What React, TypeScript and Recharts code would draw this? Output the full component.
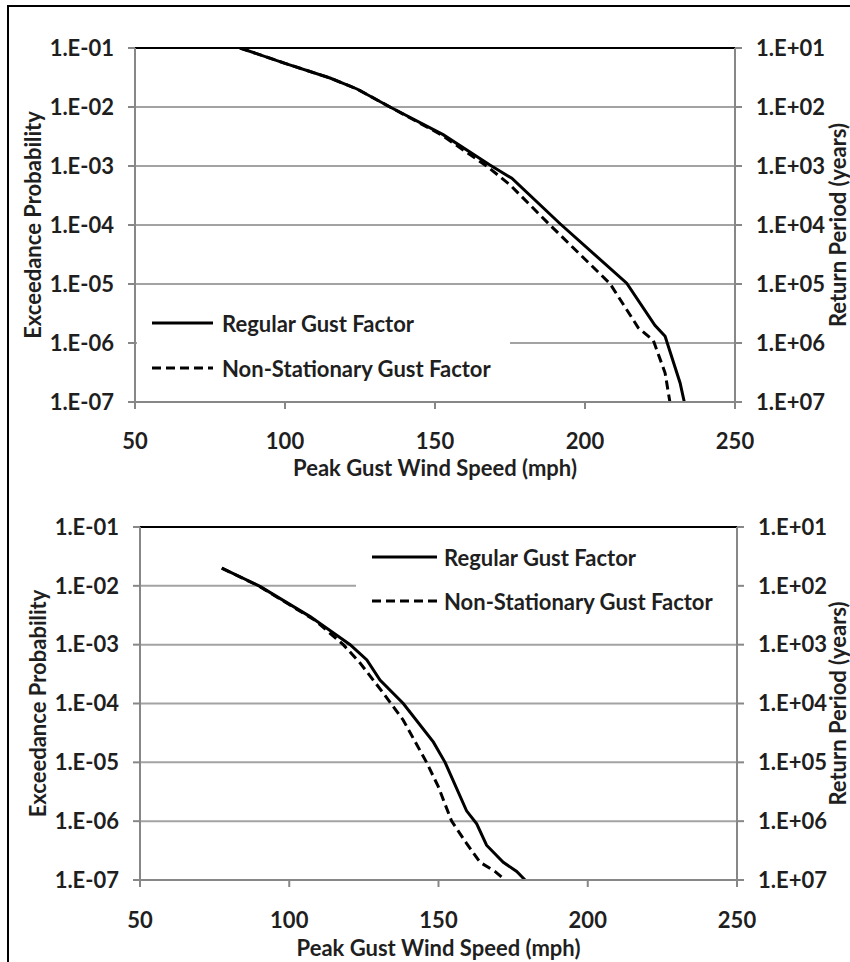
import React from 'react';
import { LineChart, Line, XAxis, YAxis, CartesianGrid, Legend, ReferenceLine } from 'recharts';

// ---------- data ----------
const speedTicks = [50, 100, 150, 200, 250];
const probTicks = [1e-1, 1e-2, 1e-3, 1e-4, 1e-5, 1e-6, 1e-7];
const returnTicks = [1e1, 1e2, 1e3, 1e4, 1e5, 1e6, 1e7];
const seriesNames = ['Regular Gust Factor', 'Non-Stationary Gust Factor'];

// South Florida: [peak gust mph, exceedance probability]
const sfRegular = [
  { mph: 85, p: 0.1 },
  { mph: 100, p: 0.055 },
  { mph: 115, p: 0.031 },
  { mph: 124, p: 0.0202 },
  { mph: 135, p: 0.01 },
  { mph: 152.7, p: 0.0034 },
  { mph: 168.3, p: 0.00104 },
  { mph: 175.6, p: 0.00062 },
  { mph: 191.7, p: 0.000105 },
  { mph: 213.9, p: 0.0000103 },
  { mph: 223.3, p: 0.0000020 },
  { mph: 226.7, p: 0.0000013 },
  { mph: 231.7, p: 0.00000021 },
  { mph: 233.1, p: 0.0000001 },
];
const sfNonStationary = [
  { mph: 85, p: 0.1 },
  { mph: 100, p: 0.055 },
  { mph: 115, p: 0.031 },
  { mph: 124, p: 0.0202 },
  { mph: 135, p: 0.01 },
  { mph: 152, p: 0.0034 },
  { mph: 167.2, p: 0.001 },
  { mph: 175, p: 0.00048 },
  { mph: 188.3, p: 0.0001 },
  { mph: 208.3, p: 0.0000102 },
  { mph: 217.8, p: 0.0000018 },
  { mph: 222.8, p: 0.0000011 },
  { mph: 226.7, p: 0.00000031 },
  { mph: 228.3, p: 0.0000001 },
];

// New York Area
const nyRegular = [
  { mph: 77.4, p: 0.02 },
  { mph: 90.2, p: 0.0098 },
  { mph: 107, p: 0.003 },
  { mph: 120.4, p: 0.001 },
  { mph: 126, p: 0.00055 },
  { mph: 130.4, p: 0.00025 },
  { mph: 138.2, p: 0.0001 },
  { mph: 148.3, p: 0.000022 },
  { mph: 152.2, p: 0.00001 },
  { mph: 159.4, p: 0.0000015 },
  { mph: 162.8, p: 0.0000009 },
  { mph: 166.1, p: 0.00000039 },
  { mph: 171.7, p: 0.0000002 },
  { mph: 176.2, p: 0.00000014 },
  { mph: 179, p: 0.0000001 },
];
const nyNonStationary = [
  { mph: 77.4, p: 0.02 },
  { mph: 90, p: 0.0098 },
  { mph: 108.6, p: 0.0026 },
  { mph: 118.1, p: 0.001 },
  { mph: 123.7, p: 0.00049 },
  { mph: 131.5, p: 0.00015 },
  { mph: 138.2, p: 0.000052 },
  { mph: 146, p: 0.00001 },
  { mph: 149.9, p: 0.0000039 },
  { mph: 154.4, p: 0.000001 },
  { mph: 159.4, p: 0.00000042 },
  { mph: 163.9, p: 0.0000002 },
  { mph: 168.9, p: 0.00000014 },
  { mph: 172.3, p: 0.0000001 },
];

// ---------- styling ----------
const FONT = 'Lato, "Noto Sans", sans-serif';
const TXT = '#1f1f1f';
const AXIS = '#878787';
const GRID = '#a3a3a3';
const FS = 22;
const dashes = [undefined, '9 5'];

const fmtExp = (v: number) => {
  const e = Math.round(Math.log10(v));
  return `1.E${e < 0 ? '-' : '+'}${String(Math.abs(e)).padStart(2, '0')}`;
};

const tickStyle = { fill: TXT, fontSize: FS, fontWeight: 700, fontFamily: FONT };

type PanelProps = {
  title: string;
  regular: { mph: number; p: number }[];
  nonStat: { mph: number; p: number }[];
  top: number;
  height: number;
  plotLeft: number;
  plotRight: number;
  plotTop: number;
  plotBottom: number;
  tickGap: number;
  xTitleGap: number;
  legendBox: { left: number; top: number; w: number; h: number; lineX1: number; lineX2: number; textX: number; y1: number; y2: number };
};

function Panel(props: PanelProps) {
  const { title, regular, nonStat, top, height, plotLeft, plotRight, plotTop, plotBottom, tickGap, xTitleGap, legendBox } = props;
  const W = 850;
  const yw = 60;
  const margin = { top: plotTop, left: plotLeft - yw, right: W - plotRight - yw, bottom: 0 };
  const xAxisHeight = height - plotBottom;
  const cx = (plotLeft + plotRight) / 2;
  const cy = (plotTop + plotBottom) / 2;

  const legendContent = (lp: any) => {
    const payload = [...(lp.payload || [])].sort(
      (a: any, b: any) => seriesNames.indexOf(a.value) - seriesNames.indexOf(b.value)
    );
    return (
      <div style={{ width: legendBox.w, height: legendBox.h, background: '#fff' }}>
        <svg width={legendBox.w} height={legendBox.h}>
          {payload.map((entry: any, i: number) => {
            const y = i === 0 ? legendBox.y1 : legendBox.y2;
            const idx = seriesNames.indexOf(entry.value);
            return (
              <g key={i}>
                <line x1={legendBox.lineX1} x2={legendBox.lineX2} y1={y} y2={y} stroke="#000" strokeWidth={3} strokeDasharray={dashes[idx < 0 ? i : idx]} />
                <text x={legendBox.textX} y={y} dominantBaseline="central" fill={TXT} fontSize={FS} fontWeight={700} fontFamily={FONT}>
                  {entry.value}
                </text>
              </g>
            );
          })}
        </svg>
      </div>
    );
  };

  return (
    <div style={{ position: 'absolute', left: 0, top, width: W, height }}>
      <LineChart width={W} height={height} margin={margin}>
        <CartesianGrid vertical={false} stroke={GRID} strokeWidth={2} yAxisId="left" />
        <XAxis
          xAxisId="bottom"
          dataKey="mph"
          type="number"
          domain={[50, 250]}
          ticks={speedTicks}
          allowDataOverflow
          height={xAxisHeight}
          axisLine={{ stroke: AXIS, strokeWidth: 2 }}
          tickLine={{ stroke: AXIS, strokeWidth: 2 }}
          tickSize={7}
          tickMargin={tickGap}
          tick={tickStyle}
          label={() => (
            <text x={cx} y={plotBottom + xTitleGap} textAnchor="middle" dominantBaseline="central" fill={TXT} fontSize={FS} fontWeight={700} fontFamily={FONT}>
              Peak Gust Wind Speed (mph)
            </text>
          )}
        />
        <XAxis
          xAxisId="top"
          orientation="top"
          dataKey="mph"
          type="number"
          domain={[50, 250]}
          ticks={speedTicks}
          allowDataOverflow
          height={0}
          tick={false}
          tickLine={false}
          axisLine={false}
          label={() => (
            <text x={cx - 5} y={plotTop - 19} textAnchor="middle" dominantBaseline="central" fill={TXT} fontSize={FS} fontWeight={700} fontFamily={FONT}>
              {title}
            </text>
          )}
        />
        <YAxis
          yAxisId="left"
          dataKey="p"
          scale="log"
          type="number"
          domain={[1e-7, 1e-1]}
          ticks={probTicks}
          allowDataOverflow
          width={yw}
          axisLine={{ stroke: AXIS, strokeWidth: 2 }}
          tickLine={{ stroke: AXIS, strokeWidth: 2 }}
          tickSize={7}
          tickMargin={14}
          tick={tickStyle}
          tickFormatter={fmtExp}
          label={() => (
            <text x={plotLeft - 103} y={cy} transform={`rotate(-90, ${plotLeft - 103}, ${cy})`} textAnchor="middle" dominantBaseline="central" fill={TXT} fontSize={FS} fontWeight={700} fontFamily={FONT}>
              Exceedance Probability
            </text>
          )}
        />
        <YAxis
          yAxisId="right"
          orientation="right"
          scale="log"
          type="number"
          domain={[1e1, 1e7]}
          ticks={returnTicks}
          reversed
          allowDataOverflow
          width={yw}
          axisLine={{ stroke: AXIS, strokeWidth: 2 }}
          tickLine={{ stroke: AXIS, strokeWidth: 2 }}
          tickSize={7}
          tickMargin={14}
          tick={tickStyle}
          tickFormatter={fmtExp}
          label={() => (
            <text x={837} y={cy} transform={`rotate(-90, 837, ${cy})`} textAnchor="middle" dominantBaseline="central" fill={TXT} fontSize={FS} fontWeight={700} fontFamily={FONT}>
              Return Period (years)
            </text>
          )}
        />
        <ReferenceLine yAxisId="left" xAxisId="bottom" y={0.1} stroke="#000" strokeWidth={2} ifOverflow="visible" />
        <Legend
          layout="vertical"
          align="center"
          verticalAlign="middle"
          content={legendContent}
          wrapperStyle={{ position: 'absolute', left: legendBox.left, top: legendBox.top, width: legendBox.w, height: legendBox.h }}
        />
        <Line
          xAxisId="bottom"
          yAxisId="left"
          data={regular}
          dataKey="p"
          name={seriesNames[0]}
          stroke="#000"
          strokeWidth={3}
          dot={false}
          activeDot={false}
          isAnimationActive={false}
          legendType="line"
        />
        <Line
          xAxisId="bottom"
          yAxisId="left"
          data={nonStat}
          dataKey="p"
          name={seriesNames[1]}
          stroke="#000"
          strokeWidth={3}
          strokeDasharray={dashes[1]}
          dot={false}
          activeDot={false}
          isAnimationActive={false}
          legendType="line"
        />
      </LineChart>
    </div>
  );
}

export default function App() {
  return (
    <div style={{ position: 'absolute', left: 0, top: 0, width: 850, height: 962, background: '#fff', overflow: 'hidden' }}>
      <Panel
        title="South Florida"
        regular={sfRegular}
        nonStat={sfNonStationary}
        top={0}
        height={480}
        plotLeft={135}
        plotRight={735}
        plotTop={48}
        plotBottom={402}
        tickGap={24}
        xTitleGap={65}
        legendBox={{ left: 137, top: 295, w: 373, h: 92, lineX1: 15, lineX2: 76, textX: 85, y1: 28, y2: 73 }}
      />
      <Panel
        title="New York Area"
        regular={nyRegular}
        nonStat={nyNonStationary}
        top={480}
        height={482}
        plotLeft={140}
        plotRight={737}
        plotTop={47}
        plotBottom={400}
        tickGap={25}
        xTitleGap={67}
        legendBox={{ left: 356, top: 58, w: 380, h: 84, lineX1: 16, lineX2: 81, textX: 88, y1: 19, y2: 63 }}
      />
      <div style={{ position: 'absolute', left: 7, top: 5, width: 850, height: 962, borderLeft: '2px solid #000', borderTop: '2px solid #000', pointerEvents: 'none' }} />
    </div>
  );
}
